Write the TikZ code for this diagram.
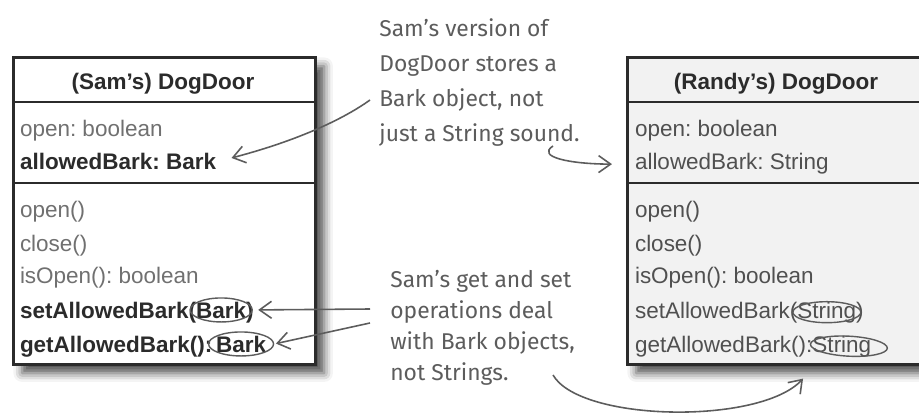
\documentclass[tikz,border=0pt]{standalone}
\usepackage{fontspec}
\setmainfont{Liberation Sans}
\newfontfamily\handfont{Fira Sans}
\usetikzlibrary{arrows.meta,positioning,shapes.geometric,shadows.blur}
\definecolor{ink}{HTML}{2B2B2B}
\definecolor{soft}{HTML}{707070}
\definecolor{mid}{HTML}{505050}
\definecolor{pen}{HTML}{5C5C5C}
\definecolor{panel}{HTML}{F2F2F2}
\frenchspacing
\tikzset{
  classbox/.style={draw=ink, line width=1.6pt, minimum width=6.04cm, minimum height=6.14cm,
    inner sep=0pt, anchor=north west,
    blur shadow={shadow xshift=5pt, shadow yshift=-5pt, shadow blur radius=5pt, shadow opacity=70}},
  divider/.style={draw=ink, line width=1.3pt},
  head/.style={anchor=base, inner sep=0pt, text=ink, font=\fontsize{12.8}{15}\selectfont\bfseries},
  mem/.style={anchor=base west, inner sep=0pt, outer sep=0pt, font=\fontsize{12.8}{15}\selectfont},
  strong/.style={text=ink, font=\fontsize{12.8}{15}\selectfont\bfseries},
  ring/.style={ellipse, draw=pen, line width=0.8pt, minimum height=0.48cm, inner sep=0pt},
  hand/.style={anchor=north west, inner sep=0pt, align=left, text=pen,
    font=\handfont\fontsize{13}{#1}\selectfont},
  pencil/.style={-{Straight Barb[length=2.4mm, width=3.4mm]}, draw=pen, line width=0.9pt},
}
\newcommand{\member}[5]{\node[mem, #4] (#1) at (#2,#3) {#5};}
\newcommand{\argof}[4]{%
  \node[mem, #3, anchor=base west] (#1) at (#2.base east) {#4};}

\begin{document}
\begin{tikzpicture}[x=0.02cm,y=-0.02cm]
  \useasboundingbox (0,0) rectangle (919,415);
  \clip (0,0) rectangle (919,415);
  % the two classes
  \node[classbox, fill=white] (sam) at (12,56) {};
  \node[classbox, fill=panel] (randy) at (626,56) {};
  \foreach \y in {102,183} {
    \draw[divider] (sam.west |- 0,\y) -- (sam.east |- 0,\y);
    \draw[divider] (randy.west |- 0,\y) -- (randy.east |- 0,\y);
  }
  \node[head] (samHead) at (163,90) {(Sam’s) DogDoor};
  \node[head] (randyHead) at (776,90) {(Randy’s) DogDoor};
  % Sam's members
  \member{samOpenF}{20}{137}{text=soft}{open: boolean}
  \member{samBark}{20}{170}{strong}{allowedBark: Bark}
  \member{samOpen}{20}{217}{text=soft}{open()}
  \member{samClose}{20}{252}{text=soft}{close()}
  \member{samIsOpen}{20}{283}{text=soft}{isOpen(): boolean}
  \member{samSet}{20}{318}{strong}{setAllowedBark(}
  \argof{samSetArg}{samSet}{strong}{Bark}
  \argof{samSetEnd}{samSetArg}{strong}{)}
  \member{samGet}{20}{352}{strong}{getAllowedBark():}
  \argof{samGetArg}{samGet}{strong}{\,Bark}
  % Randy's members
  \member{randyOpenF}{635}{137}{text=mid}{open: boolean}
  \member{randyBark}{635}{170}{text=mid}{allowedBark: String}
  \member{randyOpen}{635}{217}{text=mid}{open()}
  \member{randyClose}{635}{252}{text=mid}{close()}
  \member{randyIsOpen}{635}{283}{text=mid}{isOpen(): boolean}
  \member{randySet}{635}{318}{text=mid}{setAllowedBark(}
  \argof{randySetArg}{randySet}{text=mid}{String}
  \argof{randySetEnd}{randySetArg}{text=mid}{)}
  \member{randyGet}{635}{352}{text=mid}{getAllowedBark():}
  \argof{randyGetArg}{randyGet}{text=mid}{String}
  % circled types
  \node[ring, minimum width=1.24cm] (samSetRing) at (samSetArg.center) {};
  \node[ring, minimum width=1.30cm] (samGetRing) at ([xshift=1pt]samGetArg.center) {};
  \node[ring, minimum width=1.36cm, minimum height=0.42cm] (randySetRing) at (randySetArg.center) {};
  \node[ring, minimum width=1.54cm, minimum height=0.40cm, rotate=-3] (randyGetRing) at ([xshift=4pt]randyGetArg.center) {};
  % notes
  \node[hand=20pt] (noteStore) at (379,18) {Sam’s version of\\DogDoor stores a\\Bark object, not\\just a String sound.};
  \node[hand=17.6pt] (noteOps) at (390,270) {Sam’s get and set\\operations deal\\with Bark objects,\\not Strings.};
  \coordinate (fromStore) at (370,100);
  \coordinate (fromSound) at (553,146);
  \coordinate (fromSet) at (370,309);
  \coordinate (fromGet) at (370,323);
  \coordinate (fromStrings) at (553,375);
  \draw[pencil, shorten >=9pt] (fromStore) .. controls (345,118) and (300,140) .. (samBark.east);
  \draw[pencil, shorten >=8pt] (fromSound) .. controls (536,157) and (570,164) .. (randy.west |- randyBark);
  \draw[pencil, shorten >=3pt] (fromSet) -- (samSetRing.east);
  \draw[pencil, shorten >=1pt] (fromGet) -- (samGetRing.east);
  \draw[pencil, shorten >=10pt] (fromStrings) .. controls (580,422) and (760,425) .. (randy.south -| 815,0);
\end{tikzpicture}
\end{document}
